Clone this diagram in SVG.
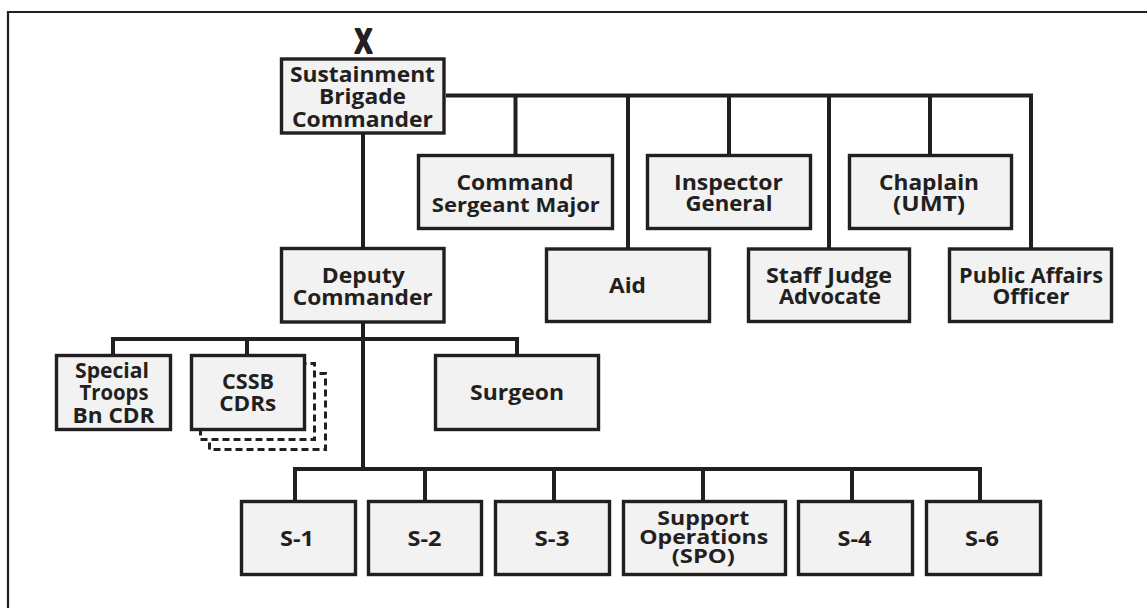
<svg xmlns="http://www.w3.org/2000/svg" width="1147" height="608" viewBox="0 0 1147 608">
<defs>
<style>
.box{fill:#f1f2f1;stroke:#231f20;stroke-width:3.4}
.dash{fill:#ffffff;stroke:#231f20;stroke-width:3;stroke-dasharray:7 4}
.ln{fill:none;stroke:#231f20;stroke-width:4;stroke-linejoin:miter;stroke-linecap:butt}
text{font-family:"Open Sans","Liberation Sans",sans-serif;font-weight:700;font-size:21px;fill:#231f20;text-anchor:middle}
.sm{font-size:19px}
.xs{font-size:19px}
.mark{font-size:34px;stroke:#231f20;stroke-width:2;stroke-linejoin:round}
</style>
</defs>
<rect width="1147" height="608" fill="#ffffff"/>
<path d="M8,608 V12 H1147" fill="none" stroke="#231f20" stroke-width="2.2"/>

<g id="connectors">
<path class="ln" d="M363,134 V249"/>
<path class="ln" d="M446,95.5 H1031 V249"/>
<path class="ln" d="M515.5,95.5 V155"/>
<path class="ln" d="M628,95.5 V249"/>
<path class="ln" d="M729,95.5 V155"/>
<path class="ln" d="M829,95.5 V249"/>
<path class="ln" d="M930,95.5 V155"/>
<path class="ln" d="M363,322 V469"/>
<path class="ln" d="M113,355 V339 H517 V355"/>
<path class="ln" d="M247,339 V355"/>
<path class="ln" d="M295,501 V469 H980 V501"/>
<path class="ln" d="M425,469 V501"/>
<path class="ln" d="M554,469 V501"/>
<path class="ln" d="M703,469 V501"/>
<path class="ln" d="M852,469 V501"/>
</g>

<g id="sustainment-commander">
<text class="mark" x="363.5" y="53" textLength="17" lengthAdjust="spacingAndGlyphs">X</text>
<rect class="box" x="281.5" y="59" width="162.5" height="74"/>
<text x="362.5" y="82" textLength="145" lengthAdjust="spacingAndGlyphs">Sustainment</text>
<text x="362.5" y="103.5" textLength="87" lengthAdjust="spacingAndGlyphs">Brigade</text>
<text x="362.5" y="126.5" textLength="141" lengthAdjust="spacingAndGlyphs">Commander</text>
</g>

<g id="command-sergeant-major">
<rect class="box" x="418.5" y="155.5" width="194" height="73"/>
<text x="515" y="190" textLength="117" lengthAdjust="spacingAndGlyphs">Command</text>
<text class="sm" x="515.8" y="211.5" textLength="168" lengthAdjust="spacingAndGlyphs">Sergeant  Major</text>
</g>

<g id="inspector-general">
<rect class="box" x="647.5" y="155.5" width="163" height="73"/>
<text x="728.5" y="190" textLength="109" lengthAdjust="spacingAndGlyphs">Inspector</text>
<text x="729" y="211" textLength="87" lengthAdjust="spacingAndGlyphs">General</text>
</g>

<g id="chaplain">
<rect class="box" x="849.5" y="155.5" width="162" height="73"/>
<text x="929" y="190" textLength="100" lengthAdjust="spacingAndGlyphs">Chaplain</text>
<text x="929" y="211" textLength="72" lengthAdjust="spacingAndGlyphs">(UMT)</text>
</g>

<g id="deputy-commander">
<rect class="box" x="281.5" y="248.5" width="162.5" height="73.5"/>
<text x="363.3" y="283" textLength="83" lengthAdjust="spacingAndGlyphs">Deputy</text>
<text x="362.7" y="305" textLength="140" lengthAdjust="spacingAndGlyphs">Commander</text>
</g>

<g id="aid">
<rect class="box" x="546.5" y="249" width="163" height="72.5"/>
<text x="627.5" y="293" textLength="37" lengthAdjust="spacingAndGlyphs">Aid</text>
</g>

<g id="staff-judge-advocate">
<rect class="box" x="748.5" y="249" width="161" height="72.5"/>
<text x="829" y="282.7" textLength="126" lengthAdjust="spacingAndGlyphs">Staff Judge</text>
<text x="830" y="304" textLength="102" lengthAdjust="spacingAndGlyphs">Advocate</text>
</g>

<g id="public-affairs-officer">
<rect class="box" x="949.5" y="249" width="162" height="72.5"/>
<text x="1031" y="282.7" textLength="144" lengthAdjust="spacingAndGlyphs">Public  Affairs</text>
<text x="1031" y="304" textLength="77" lengthAdjust="spacingAndGlyphs">Officer</text>
</g>

<g id="special-troops-bn-cdr">
<rect class="box" x="56.5" y="355.5" width="114" height="74"/>
<text x="112" y="378" textLength="74" lengthAdjust="spacingAndGlyphs">Special</text>
<text x="114" y="400" textLength="69" lengthAdjust="spacingAndGlyphs">Troops</text>
<text x="113.5" y="423" textLength="82" lengthAdjust="spacingAndGlyphs">Bn CDR</text>
</g>

<g id="cssb-cdrs">
<rect class="dash" x="209.5" y="373.5" width="116" height="76"/>
<rect class="dash" x="200.5" y="363.5" width="114" height="76"/>
<rect class="box" x="191.5" y="355.5" width="113" height="74"/>
<text x="248" y="389" textLength="52" lengthAdjust="spacingAndGlyphs">CSSB</text>
<text x="247.7" y="411" textLength="57" lengthAdjust="spacingAndGlyphs">CDRs</text>
</g>

<g id="surgeon">
<rect class="box" x="435.5" y="355.5" width="163" height="74"/>
<text x="517" y="400" textLength="94" lengthAdjust="spacingAndGlyphs">Surgeon</text>
</g>

<g id="s1">
<rect class="box" x="241.5" y="501.5" width="114" height="73"/>
<text x="297" y="546" textLength="34" lengthAdjust="spacingAndGlyphs">S-1</text>
</g>
<g id="s2">
<rect class="box" x="368.5" y="501.5" width="113" height="73"/>
<text x="424.5" y="546" textLength="34" lengthAdjust="spacingAndGlyphs">S-2</text>
</g>
<g id="s3">
<rect class="box" x="495.5" y="501.5" width="114" height="73"/>
<text x="552" y="546" textLength="35" lengthAdjust="spacingAndGlyphs">S-3</text>
</g>
<g id="spo">
<rect class="box" x="623.5" y="501.5" width="162" height="73"/>
<text class="xs" x="703.3" y="525" textLength="92" lengthAdjust="spacingAndGlyphs">Support</text>
<text class="xs" x="703.7" y="544" textLength="129" lengthAdjust="spacingAndGlyphs">Operations</text>
<text class="xs" x="703.3" y="563" textLength="63" lengthAdjust="spacingAndGlyphs">(SPO)</text>
</g>
<g id="s4">
<rect class="box" x="798.5" y="501.5" width="114" height="73"/>
<text x="854.5" y="546" textLength="34" lengthAdjust="spacingAndGlyphs">S-4</text>
</g>
<g id="s6">
<rect class="box" x="926.5" y="501.5" width="114" height="73"/>
<text x="982" y="546" textLength="34" lengthAdjust="spacingAndGlyphs">S-6</text>
</g>
</svg>
